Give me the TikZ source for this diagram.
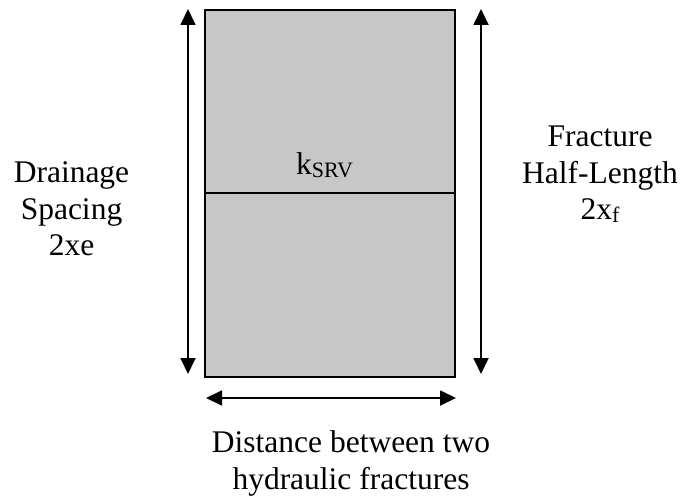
\documentclass[tikz,border=0pt]{standalone}
\usepackage{fontspec}
\setmainfont{Liberation Serif}
\usetikzlibrary{arrows.meta}
\definecolor{srv}{RGB}{199,199,199}
\newcommand{\mysub}[1]{\raisebox{-3pt}{\fontsize{22}{22}\selectfont #1}}
\tikzset{
  dim/.style={line width=1.8pt,{Triangle[length=16pt,width=15pt]}-{Triangle[length=16pt,width=15pt]}},
  lbl/.style={font=\fontsize{31.5}{36.5}\selectfont,align=center,inner sep=0pt}
}
\begin{document}
\begin{tikzpicture}[x=1pt,y=-1pt]
\useasboundingbox (0,0) rectangle (682,495);
\fill[srv] (205,10) rectangle (455,377);
\draw[line width=2.2pt] (205,10) rectangle (455,377);
\coordinate (ml) at (205,193);
\coordinate (mr) at (455,193);
\draw[line width=2pt] (ml) -- (mr);
\coordinate (lt) at (188,9);
\coordinate (lb) at (188,374);
\coordinate (rt) at (481,9);
\coordinate (rb) at (481,374);
\coordinate (bl) at (206,398);
\coordinate (br) at (456,398);
\draw[dim] (lt) -- (lb);
\draw[dim] (rt) -- (rb);
\draw[dim] (bl) -- (br);
\node[lbl,anchor=base] (k) at (324.5,174) {k\mysub{SRV}};
\node[lbl,anchor=north] (dr) at (71.5,161.5) {Drainage\\Spacing\\2xe};
\node[lbl,anchor=north] (fr) at (600,126) {Fracture\\Half-Length\\2x\mysub{f}};
\node[lbl,anchor=north] (di) at (351,430.5) {Distance between two\\hydraulic fractures};
\end{tikzpicture}
\end{document}
